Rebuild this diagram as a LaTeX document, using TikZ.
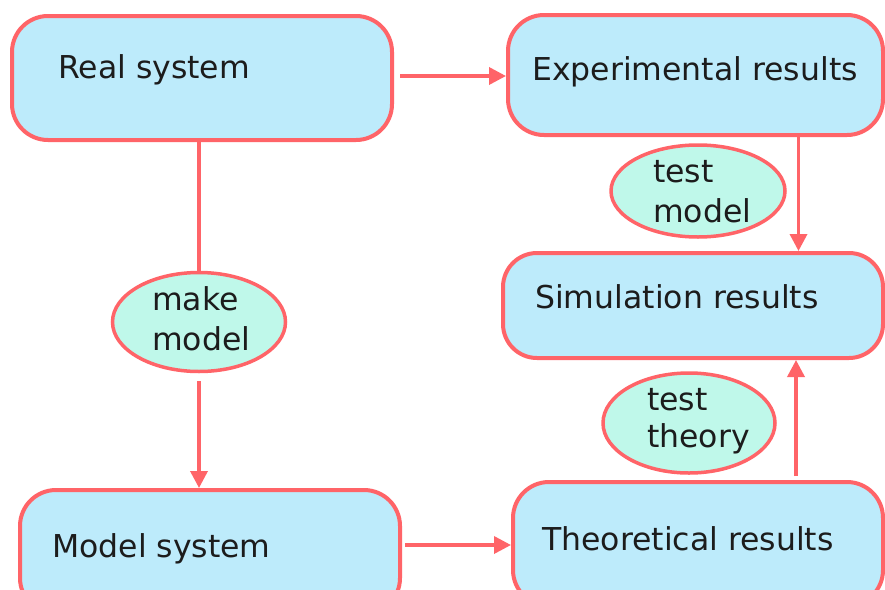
\documentclass[tikz,border=0pt]{standalone}
\usepackage{fontspec}
\setmainfont{DejaVu Sans}
\usetikzlibrary{shapes.geometric,arrows.meta}
\definecolor{boxfill}{HTML}{BDEBFB}
\definecolor{ellfill}{HTML}{BFF8EA}
\definecolor{edgecol}{HTML}{FF6468}
\definecolor{ink}{HTML}{1C1C1C}
\tikzset{
 box/.style={draw=edgecol, fill=boxfill, line width=4pt, rounded corners=36pt, rectangle, inner sep=0pt},
 ell/.style={draw=edgecol, fill=ellfill, line width=3.5pt, ellipse, inner sep=0pt},
 lbl/.style={anchor=base west, inner sep=0pt, text=ink, font=\fontsize{31.5}{38}\selectfont},
 arr/.style={draw=edgecol, line width=3.5pt, -{Triangle[length=17pt,width=17pt]}},
 ln/.style={draw=edgecol, line width=3.5pt},
}
\begin{document}
\begin{tikzpicture}[x=1pt,y=-1pt]
\useasboundingbox (0,0) rectangle (885,589);
\clip (0,0) rectangle (885,589);
\fill[white] (0,0) rectangle (885,589);
% boxes
\node[box, minimum width=380pt, minimum height=124pt] (real) at (202,78) {};
\node[box, minimum width=375pt, minimum height=120pt] (exp) at (695.5,75) {};
\node[box, minimum width=380pt, minimum height=105pt, rounded corners=34pt] (sim) at (693,305.5) {};
\node[box, minimum width=380pt, minimum height=124pt] (model) at (210,552) {};
\node[box, minimum width=370pt, minimum height=124pt] (th) at (698,544) {};
% ellipses
\node[ell, minimum width=174pt, minimum height=92pt] (tm) at (698,191) {};
\node[ell, minimum width=173pt, minimum height=99pt] (mk) at (199,322) {};
\node[ell, minimum width=172pt, minimum height=100pt] (tt) at (689,423) {};
% labels
\node[lbl] (lreal) at (58,78) {Real system};
\node[lbl] (lexp) at (532,80) {Experimental results};
\node[lbl] (lsim) at (535,308) {Simulation results};
\node[lbl] (lmodel) at (52,557) {Model system};
\node[lbl] (lth) at (542,550) {Theoretical results};
\node[lbl] (ltm1) at (653,182) {test};
\node[lbl] (ltm2) at (653,222) {model};
\node[lbl] (lmk1) at (152,310) {make};
\node[lbl] (lmk2) at (152,350) {model};
\node[lbl] (ltt1) at (647,410) {test};
\node[lbl] (ltt2) at (647,447) {theory};
% connectors
\coordinate (a1) at ([xshift=6pt,yshift=2pt]real.east);
\draw[arr] (a1) -- (a1 -| exp.west);
\draw[ln] (mk.north |- real.south) -- (mk.north);
\draw[arr] ([yshift=-8pt]mk.south) -- (mk.south |- model.north);
\coordinate (b1) at ([xshift=103pt]exp.south);
\draw[arr] (b1) -- (b1 |- sim.north);
\coordinate (c1) at ([xshift=3pt,yshift=7pt]model.east);
\draw[arr] (c1) -- (c1 -| th.west);
\coordinate (d1) at ([xshift=98pt,yshift=4pt]th.north);
\draw[arr] (d1) -- (d1 |- sim.south);
\end{tikzpicture}
\end{document}
